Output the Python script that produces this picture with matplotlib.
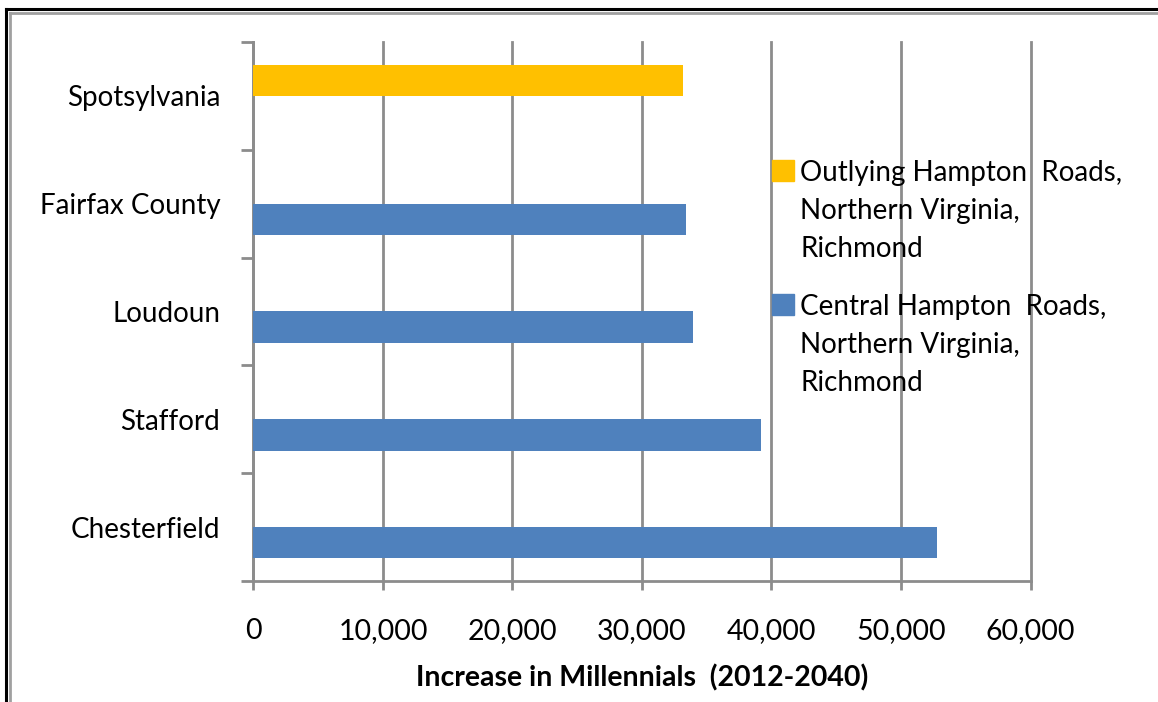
import matplotlib.pyplot as plt
import numpy as np
from matplotlib.lines import Line2D
from matplotlib.patches import Rectangle
from matplotlib.ticker import FuncFormatter

plt.rcParams['font.family'] = ['Lato', 'DejaVu Sans']

counties = ['Chesterfield', 'Stafford', 'Loudoun', 'Fairfax County', 'Spotsylvania']
outlying = [0, 0, 0, 0, 33200]
central = [52800, 39200, 33900, 33400, 0]
series_names = ['Outlying Hampton  Roads,\nNorthern Virginia,\nRichmond',
                'Central Hampton  Roads,\nNorthern Virginia,\nRichmond']
series_colors = ['#FFC000', '#4F81BD']
xlabel = 'Increase in Millennials  (2012-2040)'

fig = plt.figure(figsize=(11.58, 7.02), dpi=100)
ax = fig.add_axes([0.2189, 0.1724, 0.6710, 0.7678])

y = np.arange(len(counties))
h = 0.29
ax.barh(y + h / 2, outlying, height=h, color=series_colors[0], zorder=3)
ax.barh(y - h / 2, central, height=h, color=series_colors[1], zorder=3)

ax.set_xlim(0, 60000)
ax.set_ylim(-0.5, len(counties) - 0.5)
ax.set_xticks(np.arange(0, 60001, 10000))
ax.xaxis.set_major_formatter(FuncFormatter(lambda v, p: f'{int(v):,}'))
ax.set_yticks(y)
ax.set_yticklabels(counties)
ax.set_yticks(np.arange(-0.5, len(counties)), minor=True)

grid_c = '#8C8C8C'
ax.grid(axis='x', color=grid_c, linewidth=2, zorder=0)
for gl in ax.get_xgridlines():
    gl.set_clip_on(False)
for s in ['top', 'right']:
    ax.spines[s].set_visible(False)
for s in ['left', 'bottom']:
    ax.spines[s].set_color(grid_c)
    ax.spines[s].set_linewidth(2)

ax.tick_params(axis='x', length=6.5, width=2, color=grid_c, pad=20, labelsize=20.5)
ax.tick_params(axis='y', which='major', length=0, pad=24, labelsize=20)
ax.tick_params(axis='y', which='minor', length=8.6, width=2, color=grid_c)
ax.set_xlabel(xlabel, fontsize=20.5, fontweight='bold', labelpad=14.5)

# legend: swatch beside the first line of each label
for i, (name, col) in enumerate(zip(series_names, series_colors)):
    top = 0.766 - i * 0.191
    fig.patches.append(Rectangle((0.6667, top - 0.024), 0.0190, 0.030,
                                 transform=fig.transFigure, color=col))
    fig.text(0.691, top + 0.006, name, fontsize=20, va='top', ha='left',
             linespacing=1.56)

# double frame along top and left edges
fig.add_artist(Line2D([0.0048, 0.0048], [0, 0.9872], color='black', lw=2.2,
                      transform=fig.transFigure))
fig.add_artist(Line2D([0.0048, 1], [0.9872, 0.9872], color='black', lw=2.2,
                      transform=fig.transFigure))
fig.add_artist(Line2D([0.0090, 0.0090], [0, 0.9808], color='#A0A0A0', lw=2,
                      transform=fig.transFigure))
fig.add_artist(Line2D([0.0090, 1], [0.9808, 0.9808], color='#A0A0A0', lw=2,
                      transform=fig.transFigure))

fig.savefig('out.png', dpi=100)
